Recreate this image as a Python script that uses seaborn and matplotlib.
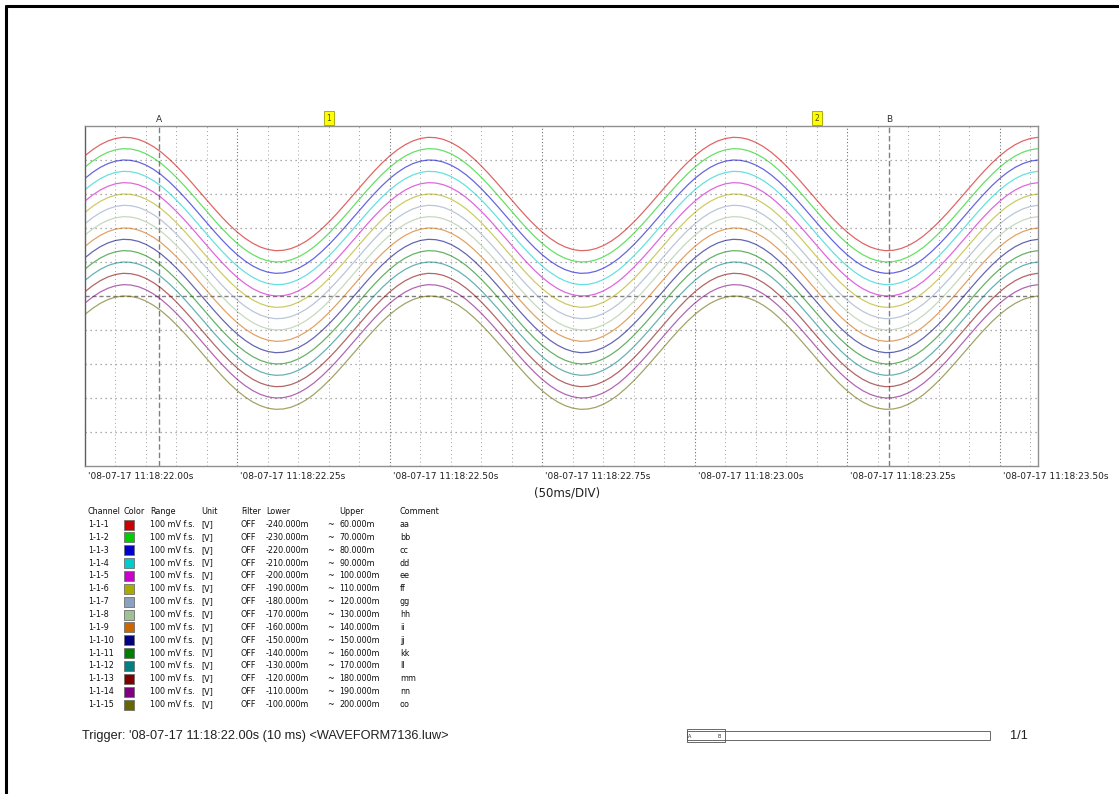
import numpy as np
import pandas as pd
import matplotlib
matplotlib.use("Agg")
import matplotlib.pyplot as plt
import matplotlib.transforms as mtransforms
from matplotlib.patches import Rectangle
import seaborn as sns

# ---------------- data ----------------
channels = ["1-1-1", "1-1-2", "1-1-3", "1-1-4", "1-1-5", "1-1-6", "1-1-7", "1-1-8",
            "1-1-9", "1-1-10", "1-1-11", "1-1-12", "1-1-13", "1-1-14", "1-1-15"]
colors = ["#CC0000", "#00CC00", "#0000CC", "#00CCCC", "#CC00CC", "#AAAA00", "#8CA0C0",
          "#A0C096", "#CC6600", "#000080", "#008000", "#008080", "#800000", "#800080", "#666600"]
lower_mV = [-240, -230, -220, -210, -200, -190, -180, -170, -160, -150, -140, -130, -120, -110, -100]
upper_mV = [60, 70, 80, 90, 100, 110, 120, 130, 140, 150, 160, 170, 180, 190, 200]
comments = ["aa", "bb", "cc", "dd", "ee", "ff", "gg", "hh", "ii", "jj", "kk", "ll", "mm", "nn", "oo"]

# waveform (mV) read every 12.5 ms from 0 s (= 11:18:22.00); one 0.5 s period,
# the recording repeats it over the whole window
sample_step_s = 0.0125
period_mV = [33.8, 39.1, 43.5, 46.8, 49.0, 50.0, 49.7, 48.2, 45.5, 41.7,
             36.9, 31.1, 24.6, 17.5, 10.0, 2.2, -5.6, -13.3, -20.7, -27.6,
             -33.8, -39.1, -43.5, -46.8, -49.0, -50.0, -49.7, -48.2, -45.5, -41.7,
             -36.9, -31.1, -24.6, -17.5, -10.0, -2.2, 5.6, 13.3, 20.7, 27.6]
signal_mV = period_mV * 3 + period_mV[:8]

x_ticks_s = [0.0, 0.25, 0.50, 0.75, 1.00, 1.25, 1.50]
x_tick_labels = ["'08-07-17 11:18:22.00s", "'08-07-17 11:18:22.25s", "'08-07-17 11:18:22.50s",
                 "'08-07-17 11:18:22.75s", "'08-07-17 11:18:23.00s", "'08-07-17 11:18:23.25s",
                 "'08-07-17 11:18:23.50s"]
x_span_s = 1.5625
cursor_pos = {"A": 0.121, "B": 1.318}
marker_pos = {"1": 0.40, "2": 1.20}

# ---------------- build long-form table ----------------
t = np.arange(len(signal_mV)) * sample_step_s
rows = []
for ch, lo, hi in zip(channels, lower_mV, upper_mV):
    div = (np.array(signal_mV) - lo) / (hi - lo) * 10.0
    rows.append(pd.DataFrame({"time": t, "div": div, "channel": ch}))
df = pd.concat(rows, ignore_index=True)

# ---------------- figure ----------------
sns.set_theme(style="white")
plt.rcParams["font.family"] = ["DejaVu Sans"]
W, H = 1119, 794
fig = plt.figure(figsize=(W / 100, H / 100), dpi=100)

def fx(px):
    return px / W

def fy(py):
    return 1 - py / H

ax = fig.add_axes([fx(85), fy(466), fx(1038) - fx(85), fy(126) - fy(466)])

sns.lineplot(data=df, x="time", y="div", hue="channel", palette=colors,
             hue_order=channels, ax=ax, legend=False, linewidth=0.9, alpha=0.6,
             estimator=None, sort=False)

ax.set_xlim(0, x_span_s)
ax.set_ylim(0, 10)
ax.set_xlabel("")
ax.set_ylabel("")

# grid
for k in range(1, int(x_span_s / 0.05) + 1):
    xv = k * 0.05
    if abs(xv / 0.25 - round(xv / 0.25)) < 1e-6:
        ax.axvline(xv, color="#707070", lw=0.8, ls=(0, (1, 2)), zorder=0)
    else:
        ax.axvline(xv, color="#A0A0A0", lw=0.7, ls=(0, (1, 3)), zorder=0)
for k in range(1, 10):
    if k == 5:
        ax.axhline(k, color="#808080", lw=1.0, ls=(0, (3, 2)), zorder=0)
    else:
        ax.axhline(k, color="#909090", lw=0.9, ls=(0, (1, 3)), zorder=0)

for s in ax.spines.values():
    s.set_color("#909090")
    s.set_linewidth(1.0)
ax.spines["left"].set_color("#606060")

ax.set_yticks([])
ax.set_xticks(x_ticks_s)
ax.set_xticklabels(x_tick_labels, fontsize=6.5, ha="left", color="#202020")
ax.tick_params(axis="x", direction="out", length=3, width=0.6, color="#606060", pad=1)
offset = mtransforms.ScaledTranslation(3 / 100, 0, fig.dpi_scale_trans)
for lab in ax.get_xticklabels():
    lab.set_transform(lab.get_transform() + offset)

# cursors
trans_top = mtransforms.blended_transform_factory(ax.transData, ax.transAxes)
for name, xv in cursor_pos.items():
    ax.axvline(xv, color="#808080", lw=1.0, ls=(0, (4, 2)), zorder=1)
    ax.text(xv, 1.006, name, transform=trans_top, ha="center", va="bottom",
            fontsize=6.5, color="#303030")
for name, xv in marker_pos.items():
    ax.text(xv, 1.01, name, transform=trans_top, ha="center", va="bottom",
            fontsize=5.5, color="#505000",
            bbox=dict(boxstyle="square,pad=0.3", facecolor="#FFFF00",
                      edgecolor="#A0A000", linewidth=0.6))

# x division label
fig.text(fx(567), fy(493), "(50ms/DIV)", ha="center", va="center", fontsize=8.5, color="#202020")

# ---------------- channel table ----------------
tbl_fs = 5.8
header_y = 512
row_y0 = 524.5
row_dy = 12.86
cols = {"Channel": 88, "Color": 124, "Range": 150, "Unit": 201, "Filter": 241,
        "Lower": 266, "Upper": 339, "Comment": 400}
for name, xp in cols.items():
    fig.text(fx(xp), fy(header_y), name, ha="left", va="center", fontsize=tbl_fs, color="#101010")
for i, ch in enumerate(channels):
    yy = row_y0 + i * row_dy
    fig.text(fx(88), fy(yy), ch, ha="left", va="center", fontsize=tbl_fs, color="#101010")
    fig.add_artist(Rectangle((fx(124), fy(yy + 5)), fx(10), fy(0) - fy(10),
                             facecolor=colors[i], edgecolor="#707070", linewidth=0.6,
                             transform=fig.transFigure))
    fig.text(fx(150), fy(yy), "100 mV f.s.", ha="left", va="center", fontsize=tbl_fs, color="#101010")
    fig.text(fx(201), fy(yy), "[V]", ha="left", va="center", fontsize=tbl_fs, color="#101010")
    fig.text(fx(241), fy(yy), "OFF", ha="left", va="center", fontsize=tbl_fs, color="#101010")
    fig.text(fx(266), fy(yy), f"{lower_mV[i]:.3f}m", ha="left", va="center", fontsize=tbl_fs, color="#101010")
    fig.text(fx(327), fy(yy), "~", ha="left", va="center", fontsize=tbl_fs, color="#101010")
    fig.text(fx(339), fy(yy), f"{upper_mV[i]:.3f}m", ha="left", va="center", fontsize=tbl_fs, color="#101010")
    fig.text(fx(400), fy(yy), comments[i], ha="left", va="center", fontsize=tbl_fs, color="#101010")

# ---------------- footer ----------------
fig.text(fx(82), fy(736), "Trigger: '08-07-17 11:18:22.00s (10 ms) <WAVEFORM7136.luw>",
         ha="left", va="center", fontsize=9.2, color="#202020", family="Liberation Sans")
fig.add_artist(Rectangle((fx(687), fy(740)), fx(990) - fx(687), fy(731) - fy(740),
                         facecolor="none", edgecolor="#505050", linewidth=0.6,
                         transform=fig.transFigure))
fig.add_artist(Rectangle((fx(687), fy(742)), fx(725) - fx(687), fy(729) - fy(742),
                         facecolor="none", edgecolor="#505050", linewidth=0.6,
                         transform=fig.transFigure))
fig.text(fx(688), fy(736), "A", ha="left", va="center", fontsize=3.5, color="#303030")
fig.text(fx(717), fy(736), "B", ha="left", va="center", fontsize=3.5, color="#303030")
fig.text(fx(1010), fy(736), "1/1", ha="left", va="center", fontsize=9.2, color="#202020",
         family="Liberation Sans")

# page border (top and left)
fig.add_artist(plt.Line2D([fx(6), 1], [fy(6), fy(6)], color="black", lw=2.2, transform=fig.transFigure))
fig.add_artist(plt.Line2D([fx(6), fx(6)], [fy(6), 0], color="black", lw=2.2, transform=fig.transFigure))

fig.savefig("out.png", dpi=100)
